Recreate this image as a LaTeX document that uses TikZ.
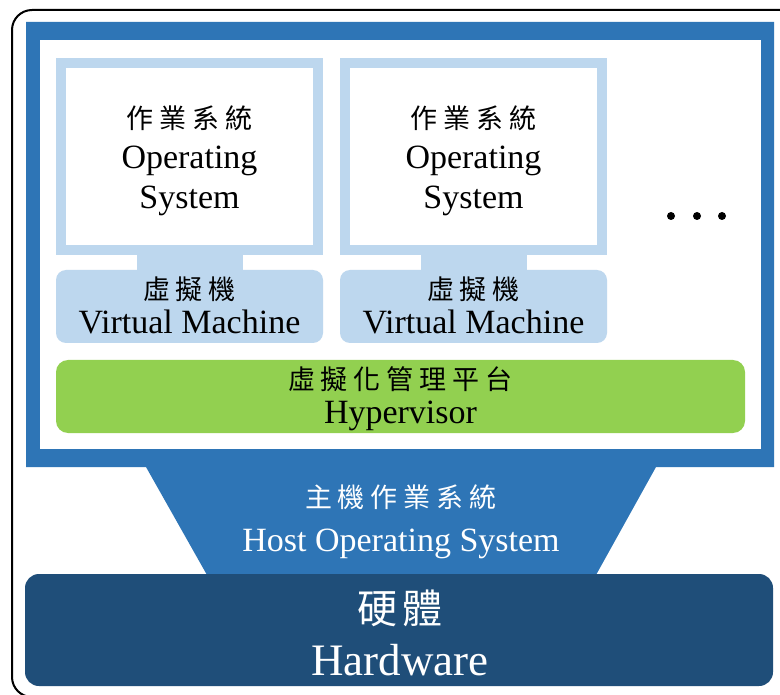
\documentclass[tikz,border=0pt]{standalone}
\usepackage{fontspec}
\setmainfont{Liberation Serif}
\newfontfamily\cjk{Noto Sans CJK TC}
\definecolor{frameblue}{HTML}{2E75B6}
\definecolor{vmblue}{HTML}{BDD7EE}
\definecolor{hvgreen}{HTML}{92D050}
\definecolor{hwblue}{HTML}{1F4E79}
\newcommand\zhgap{\hspace{6pt}}
\tikzset{
  en/.style={font=\fontsize{34}{38}\selectfont, inner sep=0pt, anchor=base},
  zh/.style={font={\cjk\fontsize{27}{30}\selectfont}, inner sep=0pt, anchor=base},
  osbox/.style={draw=vmblue, line width=10pt, fill=white, minimum width=257pt,
    minimum height=187pt, inner sep=0pt},
  vmbox/.style={fill=vmblue, rounded corners=10pt, minimum width=267pt,
    minimum height=73pt, inner sep=0pt},
  hvbox/.style={fill=hvgreen, rounded corners=12pt, minimum width=689pt,
    minimum height=73pt, inner sep=0pt},
  hwbox/.style={fill=hwblue, rounded corners=14pt, minimum width=748pt,
    minimum height=112pt, inner sep=0pt},
  dot/.style={circle, fill=black, inner sep=0pt, minimum size=8pt},
}
\begin{document}
\begin{tikzpicture}[x=1pt, y=-1pt]
  \useasboundingbox (0,0) rectangle (780,695);
  \clip (0,0) rectangle (780,695);
  \fill[white] (0,0) rectangle (780,695);
  % outer frame
  \draw[line width=2pt, rounded corners=20pt] (12,10) rectangle (800,697);

  % host OS: blue frame with funnel towards the hardware
  \fill[frameblue] (26,22) -- (774,22) -- (774,467) -- (656,467) -- (596,575)
    -- (207,575) -- (146,467) -- (26,467) -- cycle;
  \fill[white] (40,40) rectangle (761,449);

  % guest operating systems
  \node[osbox] (os1) at (189.5,156.5) {};
  \node[osbox] (os2) at (473.5,156.5) {};

  % virtual machines
  \node[vmbox] (vm1) at (189.5,306.5) {};
  \node[vmbox] (vm2) at (473.5,306.5) {};

  % stems joining each OS to its VM
  \fill[vmblue] ([xshift=-53pt,yshift=2pt]os1.south) rectangle ([xshift=53pt,yshift=-2pt]vm1.north);
  \fill[vmblue] ([xshift=-53pt,yshift=2pt]os2.south) rectangle ([xshift=53pt,yshift=-2pt]vm2.north);

  % hypervisor and hardware
  \node[hvbox] (hv) at (400.5,396.5) {};
  \node[hwbox] (hw) at (399,630) {};

  % more VMs
  \node[dot] (d1) at (671,216) {};
  \node[dot] (d2) at (697,216) {};
  \node[dot] (d3) at (722,216) {};

  % labels
  \node[zh] (os1zh) at (189.5,129) {作\zhgap 業\zhgap 系\zhgap 統};
  \node[en] (os1a) at (189.5,169) {Operating};
  \node[en] (os1b) at (189.5,209) {System};
  \node[zh] (os2zh) at (473.5,129) {作\zhgap 業\zhgap 系\zhgap 統};
  \node[en] (os2a) at (473.5,169) {Operating};
  \node[en] (os2b) at (473.5,209) {System};

  \node[zh] (vm1zh) at (189.5,300) {虛\zhgap 擬\zhgap 機};
  \node[en] (vm1en) at (189.5,334) {Virtual Machine};
  \node[zh] (vm2zh) at (473.5,300) {虛\zhgap 擬\zhgap 機};
  \node[en] (vm2en) at (473.5,334) {Virtual Machine};

  \node[zh] (hvzh) at (400.5,390) {虛\zhgap 擬\zhgap 化\zhgap 管\zhgap 理\zhgap 平\zhgap 台};
  \node[en] (hven) at (400.5,423) {Hypervisor};

  \node[zh, text=white] (hostzh) at (401,507) {主\zhgap 機\zhgap 作\zhgap 業\zhgap 系\zhgap 統};
  \node[en, text=white] (hosten) at (401,551) {Host Operating System};

  \node[font={\cjk\fontsize{40}{46}\selectfont}, inner sep=0pt, anchor=base, text=white]
    (hwzh) at (400,623) {硬\hspace{5pt}體};
  \node[font=\fontsize{45}{50}\selectfont, inner sep=0pt, anchor=base, text=white]
    (hwen) at (400,675) {Hardware};
\end{tikzpicture}
\end{document}
